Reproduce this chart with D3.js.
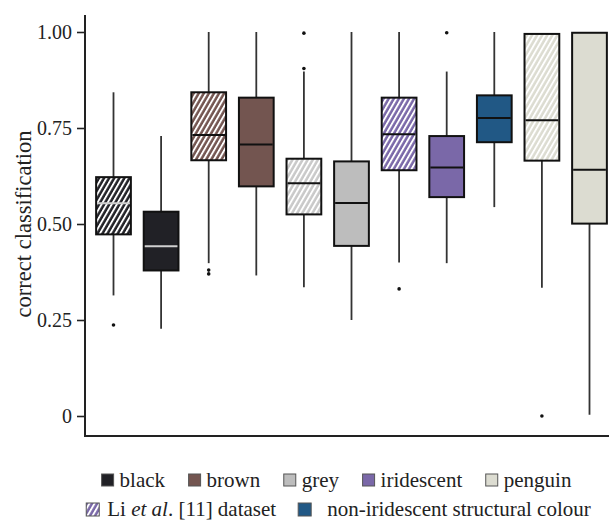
<!DOCTYPE html>
<html>
<head>
<meta charset="utf-8">
<script src="https://cdn.jsdelivr.net/npm/d3@7"></script>
<style>
  body { margin: 0; background: #fff; }
  svg text { fill: #222; }
</style>
</head>
<body>
<div class="chart"></div>
<script>
// box plot data (left to right)
var groups = ["black", "black", "brown", "brown", "grey", "grey", "iridescent", "iridescent",
  "non-iridescent structural colour", "penguin", "penguin"];
var liDataset = [true, false, true, false, true, false, true, false, false, true, false];
var whiskerHigh = [0.843, 0.729, 1.0, 1.0, 0.897, 1.0, 1.0, 0.897, 1.0, 0.995, 1.0];
var q3 = [0.622, 0.532, 0.843, 0.829, 0.670, 0.663, 0.829, 0.729, 0.835, 0.995, 0.998];
var median = [0.554, 0.442, 0.732, 0.707, 0.606, 0.555, 0.734, 0.647, 0.776, 0.770, 0.641];
var q1 = [0.473, 0.379, 0.666, 0.598, 0.525, 0.443, 0.640, 0.570, 0.713, 0.665, 0.501];
var whiskerLow = [0.314, 0.227, 0.398, 0.366, 0.335, 0.250, 0.400, 0.398, 0.544, 0.334, 0.003];
var outliers = [[0.237], [], [0.380, 0.370], [], [0.997, 0.905], [], [0.331], [0.998], [], [0.0], []];

var yTicks = [0, 0.25, 0.5, 0.75, 1];
var legendColours = ["black", "brown", "grey", "iridescent", "penguin"];

var colour = {
  "black": "#212126",
  "brown": "#735550",
  "grey": "#bdbdbd",
  "iridescent": "#7a68a8",
  "non-iridescent structural colour": "#215885",
  "penguin": "#dcdcd1"
};
var medianColour = { "black": "#d0d0d0" };

// no serif face is installed, so this ends up on the default face
var fontFamily = "'Liberation Serif', 'DejaVu Serif', 'Times New Roman', serif";

var svgWidth = 609;
var svgHeight = 520;

var svg = d3.select(".chart")
  .append("svg")
  .attr("width", svgWidth)
  .attr("height", svgHeight)
  .attr("font-family", fontFamily);

var boxes = groups.map(function (g, i) {
  return {
    i: i, group: g, li: liDataset[i],
    hi: whiskerHigh[i], q3: q3[i], med: median[i], q1: q1[i], lo: whiskerLow[i],
    out: outliers[i]
  };
});

// scales
var x = d3.scaleBand()
  .domain(d3.range(groups.length))
  .range([89.7, 613.3])
  .paddingInner(0.27)
  .paddingOuter(0.135);

var y = d3.scaleLinear()
  .domain([0, 1])
  .range([416, 32]);

// hatch patterns for the Li et al. dataset
var defs = svg.append("defs");
Object.keys(colour).forEach(function (g, k) {
  var p = defs.append("pattern")
    .attr("id", "hatch-" + k)
    .attr("patternUnits", "userSpaceOnUse")
    .attr("width", 4.4)
    .attr("height", 10)
    .attr("patternTransform", "rotate(30)");
  p.append("rect")
    .attr("width", 4.4).attr("height", 10)
    .attr("fill", g === "grey" ? "#c9c9c9" : colour[g]);
  p.append("rect")
    .attr("width", 1.9).attr("height", 10)
    .attr("fill", "#fff");
});
function hatchId(g) {
  return "url(#hatch-" + Object.keys(colour).indexOf(g) + ")";
}

// axes
var yAxis = svg.append("g")
  .attr("transform", "translate(85,0)")
  .call(d3.axisLeft(y)
    .tickValues(yTicks)
    .tickSize(8)
    .tickPadding(5)
    .tickFormat(function (d) { return d === 0 ? "0" : d3.format(".2f")(d); }));
yAxis.attr("font-family", fontFamily).attr("font-size", 20);
yAxis.select(".domain").remove();
yAxis.selectAll(".tick line").attr("stroke", "#222").attr("stroke-width", 1.6);
yAxis.selectAll(".tick text").attr("fill", "#222");

svg.append("line")
  .attr("x1", 85).attr("x2", 85)
  .attr("y1", 15).attr("y2", 437)
  .attr("stroke", "#222").attr("stroke-width", 2);
svg.append("line")
  .attr("x1", 84).attr("x2", 609)
  .attr("y1", 436).attr("y2", 436)
  .attr("stroke", "#222").attr("stroke-width", 2);

svg.append("text")
  .attr("transform", "rotate(-90)")
  .attr("x", -y(0.5))
  .attr("y", 31)
  .attr("text-anchor", "middle")
  .attr("font-size", 22.5)
  .text("correct classification");

// boxes
var boxGroup = svg.selectAll("g.box")
  .data(boxes)
  .enter()
  .append("g")
  .attr("class", "box");

boxGroup.append("line")
  .attr("x1", d => x(d.i) + x.bandwidth() / 2)
  .attr("x2", d => x(d.i) + x.bandwidth() / 2)
  .attr("y1", d => y(d.hi))
  .attr("y2", d => y(d.lo))
  .attr("stroke", "#333")
  .attr("stroke-width", 1.8);

boxGroup.append("rect")
  .attr("x", d => x(d.i))
  .attr("width", x.bandwidth())
  .attr("y", d => y(d.q3))
  .attr("height", d => y(d.q1) - y(d.q3))
  .attr("fill", d => d.li ? hatchId(d.group) : colour[d.group])
  .attr("stroke", "#111")
  .attr("stroke-width", 2);

boxGroup.append("line")
  .attr("x1", d => x(d.i) + 1)
  .attr("x2", d => x(d.i) + x.bandwidth() - 1)
  .attr("y1", d => y(d.med))
  .attr("y2", d => y(d.med))
  .attr("stroke", d => medianColour[d.group] || "#111")
  .attr("stroke-width", 2);

boxGroup.selectAll("circle")
  .data(d => d.out.map(v => ({ i: d.i, v: v })))
  .enter()
  .append("circle")
  .attr("cx", d => x(d.i) + x.bandwidth() / 2)
  .attr("cy", d => y(d.v))
  .attr("r", 1.8)
  .attr("fill", "#111");

// legend
function layoutRow(row, items, gap, left, right) {
  var xPos = 0;
  items.forEach(function (it) {
    var g = row.append("g").attr("transform", "translate(" + xPos + ",0)");
    g.append("rect")
      .attr("x", 0).attr("y", -13)
      .attr("width", it.w).attr("height", it.w)
      .attr("fill", it.fill)
      .attr("stroke", "#555").attr("stroke-width", 1);
    var t = g.append("text")
      .attr("x", it.w + it.pad)
      .attr("y", 0)
      .attr("font-size", 21);
    it.text(t);
    xPos += it.w + it.pad + t.node().getComputedTextLength() + gap;
  });
  var total = xPos - gap;
  var centre = (left + right) / 2;
  row.attr("transform", "translate(" + (centre - total / 2) + "," + row.attr("data-y") + ")");
}

var row1 = svg.append("g").attr("data-y", 487);
layoutRow(row1, legendColours.map(function (g) {
  return { w: 12, pad: 6, fill: colour[g], text: t => t.text(g) };
}), 23.5, 100, 573);

var row2 = svg.append("g").attr("data-y", 516);
layoutRow(row2, [
  {
    w: 13, pad: 8, fill: "url(#hatch-3)", text: function (t) {
      t.append("tspan").text("Li ");
      t.append("tspan").attr("font-style", "italic").text("et al");
      t.append("tspan").text(". [11] dataset");
    }
  },
  { w: 13, pad: 16, fill: colour["non-iridescent structural colour"], text: t => t.text("non-iridescent structural colour") }
], 22, 87, 590);
</script>
</body>
</html>
